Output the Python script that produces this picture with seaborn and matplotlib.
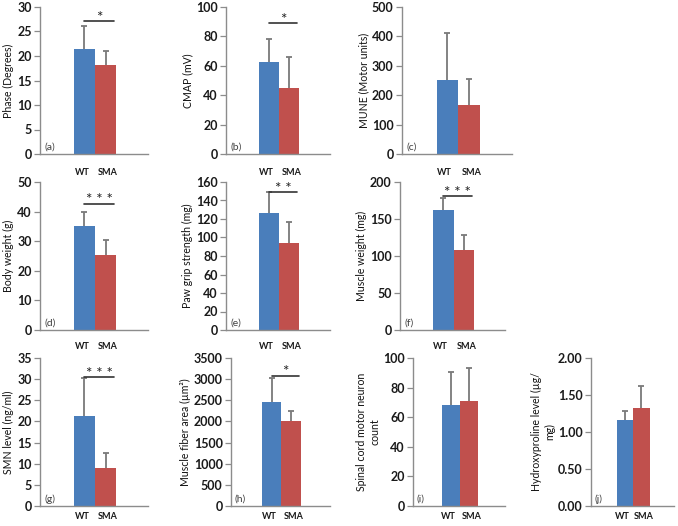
import matplotlib
matplotlib.use("Agg")
import matplotlib.pyplot as plt
import matplotlib.transforms as mtrans
import seaborn as sns
import pandas as pd
from matplotlib.ticker import MultipleLocator, FormatStrFormatter

# ---------------- data ----------------
groups = ["WT", "SMA"]
panel_tags = ["(a)", "(b)", "(c)", "(d)", "(e)", "(f)", "(g)", "(h)", "(i)", "(j)"]
ylabels = ["Phase (Degrees)", "CMAP (mV)", "MUNE (Motor units)",
           "Body weight (g)", "Paw grip strength (mg)", "Muscle weight (mg)",
           "SMN level (ng/ml)", "Muscle fiber area (\u00b5m\u00b2)",
           "Spinal cord motor neuron\ncount", "Hydroxyproline level (\u00b5g/\nmg)"]
wt_means = [21.4, 62.3, 252, 35.2, 127, 162.5, 21.3, 2457, 68.4, 1.16]
wt_err = [4.8, 15.7, 160, 4.7, 22, 15.8, 9.0, 568, 21.9, 0.13]
sma_means = [18.2, 45.0, 166, 25.3, 94, 108.4, 9.1, 2014, 70.7, 1.33]
sma_err = [2.9, 21.0, 90, 5.0, 23, 20.3, 3.5, 221, 22.8, 0.29]
sig_labels = ["*", "*", "", "* * *", "* *", "* * *", "* * *", "*", "", ""]
sig_heights = [27.1, 89, None, 42.7, 148.7, 180.6, 30.5, 3080, None, None]
y_max = [30, 100, 500, 50, 160, 200, 35, 3500, 100, 2.0]
y_step = [5, 20, 100, 10, 20, 50, 5, 500, 20, 0.5]

# ---------------- layout (pixels) ----------------
W, H = 678, 526
rows = [(7, 154), (182, 330), (358, 506)]
row_pad = [10.0, 8.5, 4.0]
cols = [(40, 148), (226, 330), (402, 512),
        (40, 148), (226, 330), (400, 505),
        (40, 148), (231, 330), (413, 505), (591, 674)]
row_of = [0, 0, 0, 1, 1, 1, 2, 2, 2, 2]

colors = {"WT": "#4a7ebb", "SMA": "#c0504d"}
axis_gray = "#8c8c8c"
err_gray = "#7a7a7a"

sns.set_style("white")
plt.rcParams["font.family"] = ["Lato", "DejaVu Sans"]

fig = plt.figure(figsize=(W / 100, H / 100), dpi=100)

for i in range(10):
    top, bot = rows[row_of[i]]
    l, r = cols[i]
    ax = fig.add_axes([l / W, 1 - bot / H, (r - l) / W, (bot - top) / H])
    df = pd.DataFrame({"group": groups, "value": [wt_means[i], sma_means[i]]})
    sns.barplot(data=df, x="group", y="value", hue="group", order=groups,
                hue_order=groups, palette=colors, width=1.0, errorbar=None,
                legend=False, ax=ax, linewidth=0, saturation=1)
    eb = ax.errorbar([0, 1], [wt_means[i], sma_means[i]],
                     yerr=[[0, 0], [wt_err[i], sma_err[i]]], fmt="none",
                     ecolor=err_gray, elinewidth=1.3, capsize=2.5, capthick=1.3,
                     zorder=3)
    caps = eb.lines[1]
    if len(caps) > 1:
        caps[0].set_visible(False)
    if sig_labels[i]:
        h = sig_heights[i]
        ax.plot([0, 1.4], [h, h], color="#333333", lw=1.2, clip_on=False, zorder=4)
        ax.annotate(sig_labels[i], xy=(0.7, h), xytext=(0, -2.5),
                    textcoords="offset points", ha="center", va="bottom",
                    fontsize=11, color="#222222", annotation_clip=False)
    ax.set_xlim(-2.1, 3.0)
    ax.set_ylim(0, y_max[i])
    ax.yaxis.set_major_locator(MultipleLocator(y_step[i]))
    if i == 9:
        ax.yaxis.set_major_formatter(FormatStrFormatter("%.2f"))
    for s in ["top", "right"]:
        ax.spines[s].set_visible(False)
    for s in ["left", "bottom"]:
        ax.spines[s].set_color(axis_gray)
        ax.spines[s].set_linewidth(1.0)
    ax.tick_params(axis="y", direction="out", length=4, width=0.9,
                   color=axis_gray, labelsize=9, labelcolor="#1a1a1a", pad=2,
                   left=True)
    ax.tick_params(axis="x", length=0, pad=row_pad[row_of[i]], labelsize=6.5,
                   labelcolor="#1a1a1a")
    for t in ax.get_yticklabels():
        t.set_fontweight("bold")
    xl = ax.get_xticklabels()
    for t, dx in zip(xl, [-2.5, 2.5]):
        t.set_fontweight("bold")
        t.set_transform(t.get_transform() +
                        mtrans.ScaledTranslation(dx / 100, 0, fig.dpi_scale_trans))
    ax.set_xlabel("")
    ax.set_ylabel(ylabels[i], fontsize=7.6, color="#111111", labelpad=2)
    ax.text(0.04, 0.015, panel_tags[i], transform=ax.transAxes, ha="left",
            va="bottom", fontsize=7.5, color="#404040")

fig.savefig("out.png", dpi=100)
